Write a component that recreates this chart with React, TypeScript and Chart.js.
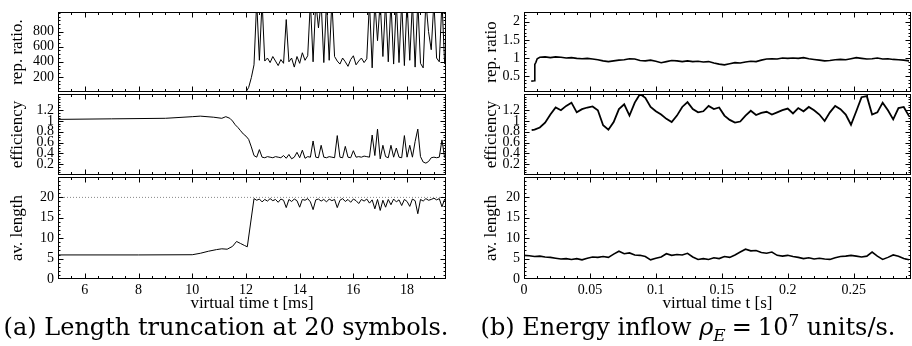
import React, { useEffect, useRef } from "react";
import { Chart, registerables } from "chart.js";

Chart.register(...registerables);

// ---------------- data: panel (a) ----------------
const A_X_TICKS = [6, 8, 10, 12, 14, 16, 18];
const A_REP_TICKS = [200, 400, 600, 800];
const EFF_TICKS = [0.2, 0.4, 0.6, 0.8, 1, 1.2];
const LEN_TICKS = [0, 5, 10, 15, 20];

const A_GRID = [
  12.4, 12.5, 12.6, 12.7, 12.8, 12.9,
  13.0, 13.1, 13.2, 13.3, 13.4, 13.5, 13.6, 13.7, 13.8, 13.9,
  14.0, 14.1, 14.2, 14.3, 14.4, 14.5, 14.6, 14.7, 14.8, 14.9,
  15.0, 15.1, 15.2, 15.3, 15.4, 15.5, 15.6, 15.7, 15.8, 15.9,
  16.0, 16.1, 16.2, 16.3, 16.4, 16.5, 16.6, 16.7, 16.8, 16.9,
  17.0, 17.1, 17.2, 17.3, 17.4, 17.5, 17.6, 17.7, 17.8, 17.9,
  18.0, 18.1, 18.2, 18.3, 18.4, 18.5, 18.6, 18.7, 18.8, 18.9,
  19.0, 19.1, 19.2, 19.3, 19.4,
];

const A_REP_T0 = [5, 12.0, 12.1, 12.2, 12.3];
const A_REP_V0 = [0, 0, 60, 190, 360];
const A_REP_V = [
  1200, 420, 1200, 410, 450, 390,
  470, 410, 350, 430, 380, 960, 400, 450, 330, 470,
  380, 520, 420, 480, 1200, 400, 1200, 850, 1200, 390,
  1200, 420, 1200, 470, 410, 370, 450, 400, 340, 430,
  480, 360, 410, 450, 390, 440, 1200, 320, 1200, 680,
  1200, 470, 1200, 400, 1200, 370, 1200, 390, 1200, 350,
  1200, 420, 1200, 330, 1200, 380, 320, 1200, 800, 560,
  1200, 450, 400, 1200, 370,
];

const A_EFF_T0 = [5, 7, 9, 10, 10.3, 10.8, 11.1, 11.25, 11.4, 11.5, 11.6, 11.7, 11.8, 11.9, 12.0, 12.1, 12.2, 12.3];
const A_EFF_V0 = [1.03, 1.04, 1.05, 1.08, 1.09, 1.07, 1.05, 1.08, 1.05, 1.0, 0.93, 0.88, 0.82, 0.76, 0.72, 0.66, 0.52, 0.36];
const A_EFF_V = [
  0.33, 0.47, 0.33, 0.32, 0.34, 0.33,
  0.32, 0.34, 0.33, 0.32, 0.36, 0.31, 0.38, 0.30, 0.33, 0.42,
  0.32, 0.46, 0.31, 0.34, 0.33, 0.63, 0.33, 0.32, 0.55, 0.33,
  0.32, 0.34, 0.33, 0.32, 0.73, 0.33, 0.32, 0.53, 0.33, 0.32,
  0.45, 0.33, 0.34, 0.33, 0.35, 0.34, 0.33, 0.74, 0.36, 0.85,
  0.30, 0.55, 0.34, 0.32, 0.55, 0.33, 0.50, 0.33, 0.32, 0.73,
  0.33, 0.55, 0.33, 0.62, 0.85, 0.34, 0.24, 0.22, 0.25, 0.32,
  0.33, 0.32, 0.33, 0.65, 0.32,
];

const A_LEN_T0 = [5, 8, 10, 10.3, 10.6, 10.9, 11.1, 11.3, 11.5, 11.65, 11.8, 11.95, 12.05, 12.3];
const A_LEN_V0 = [5.9, 5.9, 5.95, 6.3, 6.8, 7.2, 7.4, 7.3, 8.0, 9.2, 8.7, 8.2, 7.9, 19.7];
const A_LEN_V = [
  19.3, 19.6, 18.9, 19.5, 19.1, 19.7,
  19.2, 19.5, 18.8, 19.6, 19.3, 17.5, 19.5, 19.0, 19.6, 19.2,
  17.6, 19.5, 19.3, 19.7, 18.9, 17.0, 19.4, 19.6, 19.1, 19.5,
  18.9, 19.6, 19.2, 19.5, 17.5, 19.3, 19.7, 19.0, 19.5, 18.8,
  19.6, 19.2, 18.5, 19.5, 19.1, 19.6, 18.6, 19.4, 17.2, 19.5,
  16.8, 19.3, 17.6, 19.5, 18.2, 19.6, 18.9, 19.4, 18.0, 19.5,
  19.0, 17.8, 19.6, 19.2, 16.0, 19.5, 19.1, 19.7, 19.3, 19.5,
  19.8, 19.4, 19.7, 17.7, 19.6,
];
const A_LEN_LIMIT_T = [5, 19.45];
const A_LEN_LIMIT_V = [20, 20];

// ---------------- data: panel (b) ----------------
const B_X_TICKS = [0, 0.05, 0.1, 0.15, 0.2, 0.25];
const B_REP_TICKS = [0.5, 1, 1.5, 2];

const B_GRID = [
  0.012, 0.016, 0.02, 0.024, 0.028, 0.032, 0.036, 0.04, 0.044, 0.048,
  0.052, 0.056, 0.06, 0.064, 0.068, 0.072, 0.076, 0.08, 0.084, 0.088,
  0.092, 0.096, 0.1, 0.104, 0.108, 0.112, 0.116, 0.12, 0.124, 0.128,
  0.132, 0.136, 0.14, 0.144, 0.148, 0.152, 0.156, 0.16, 0.164, 0.168,
  0.172, 0.176, 0.18, 0.184, 0.188, 0.192, 0.196, 0.2, 0.204, 0.208,
  0.212, 0.216, 0.22, 0.224, 0.228, 0.232, 0.236, 0.24, 0.244, 0.248,
  0.252, 0.256, 0.26, 0.264, 0.268, 0.272, 0.276, 0.28, 0.284, 0.288,
  0.292,
];

const B_REP_T0 = [0.0055, 0.0078, 0.0082, 0.009, 0.01];
const B_REP_V0 = [0.36, 0.37, 0.82, 0.88, 0.98];
const B_REP_V = [
  1.02, 1.03, 1.01, 1.03, 1.02, 1.0, 1.01, 0.99, 0.98, 0.99,
  0.97, 0.95, 0.92, 0.9, 0.92, 0.94, 0.95, 0.98, 0.97, 0.93,
  0.92, 0.94, 0.91, 0.87, 0.9, 0.93, 0.92, 0.9, 0.92, 0.9,
  0.91, 0.89, 0.9, 0.86, 0.83, 0.81, 0.84, 0.87, 0.86, 0.89,
  0.91, 0.9, 0.94, 0.97, 0.98, 0.97, 1.0, 0.99, 1.0, 0.99,
  1.01, 0.98, 0.96, 0.94, 0.92, 0.93, 0.95, 0.96, 0.95, 0.98,
  1.01, 0.99, 0.97, 0.98, 1.0, 0.97, 0.98, 0.96, 0.95, 0.94,
  0.92,
];

const B_EFF_T0 = [0.0058, 0.008];
const B_EFF_V0 = [0.83, 0.84];
const B_EFF_V = [
  0.88, 0.97, 1.12, 1.25, 1.2, 1.28, 1.34, 1.16, 1.22, 1.25,
  1.27, 1.2, 0.92, 0.84, 0.98, 1.22, 1.31, 1.1, 1.34, 1.5,
  1.43, 1.26, 1.18, 1.12, 1.04, 0.98, 1.1, 1.26, 1.35, 1.22,
  1.16, 1.18, 1.28, 1.22, 1.25, 1.1, 1.02, 0.97, 0.99, 1.1,
  1.19, 1.11, 1.15, 1.17, 1.12, 1.16, 1.2, 1.23, 1.14, 1.24,
  1.18, 1.26, 1.2, 1.12, 1.0, 1.16, 1.28, 1.22, 1.12, 0.93,
  1.18, 1.44, 1.46, 1.12, 1.16, 1.34, 1.2, 1.03, 1.24, 1.26,
  1.09,
];

const B_LEN_T0 = [0, 0.004, 0.008];
const B_LEN_V0 = [5.8, 5.7, 5.5];
const B_LEN_V = [
  5.6, 5.4, 5.3, 5.1, 4.9, 5.0, 4.8, 5.0, 4.7, 5.1,
  5.4, 5.3, 5.5, 5.3, 6.1, 6.8, 6.2, 6.4, 5.9, 5.8,
  5.5, 4.7, 5.1, 5.4, 6.2, 5.8, 6.0, 5.9, 6.3, 5.4,
  4.8, 5.0, 4.8, 5.2, 5.0, 5.5, 5.3, 5.9, 6.6, 7.3,
  6.9, 7.0, 6.5, 6.3, 6.6, 5.8, 5.6, 5.8, 5.5, 5.3,
  5.0, 5.2, 4.9, 5.1, 4.9, 4.8, 5.2, 5.5, 5.6, 5.8,
  5.6, 5.4, 5.6, 6.6, 5.6, 4.8, 5.3, 5.9, 5.6, 5.0,
  4.7,
];

// ---------------- helpers ----------------
function pts(t0: number[], v0: number[], t: number[], v: number[]) {
  const out: { x: number; y: number }[] = [];
  t0.forEach((x, i) => out.push({ x, y: v0[i] }));
  t.forEach((x, i) => out.push({ x, y: v[i] }));
  return out;
}

const FONT = "'Liberation Serif', 'Times New Roman', serif";
const TICK_SIZE = 14;
const TITLE_SIZE = 17;

type Series = { data: { x: number; y: number }[]; color?: string; width?: number; dash?: number[] };
type Area = { left: number; top: number; right: number; bottom: number };
type PlotProps = {
  cx: number; cy: number; cw: number; ch: number;
  area: Area;
  xMin: number; xMax: number; xTicks: number[]; xMinor: number;
  yMin: number; yMax: number; yTicks: number[]; yMinor: number;
  yTitle: string; yTitleX: number; xTitle?: string;
  series: Series[];
};

function Plot(p: PlotProps) {
  const ref = useRef<HTMLCanvasElement | null>(null);
  useEffect(() => {
    if (!ref.current) return;
    const frame = {
      id: "frame",
      afterDraw(chart: any) {
        const { ctx, chartArea: a, scales } = chart;
        const xs = scales.x, ys = scales.y;
        const L = Math.round(a.left) + 0.5, R = Math.round(a.right) - 0.5;
        const T = Math.round(a.top) + 0.5, B = Math.round(a.bottom) - 0.5;
        ctx.save();
        ctx.strokeStyle = "#000";
        ctx.lineWidth = 1;
        ctx.strokeRect(L, T, R - L, B - T);
        ctx.beginPath();
        const isMajor = (v: number, ticks: number[], step: number) =>
          ticks.some((t) => Math.abs(t - v) < step * 0.01);
        for (let k = Math.ceil(p.xMin / p.xMinor - 1e-9); k * p.xMinor <= p.xMax + 1e-9; k++) {
          const v = k * p.xMinor;
          const len = isMajor(v, p.xTicks, p.xMinor) ? 5 : 2.5;
          const px = Math.round(xs.getPixelForValue(v)) + 0.5;
          if (px < L || px > R) continue;
          ctx.moveTo(px, B); ctx.lineTo(px, B - len);
          ctx.moveTo(px, T); ctx.lineTo(px, T + len);
        }
        for (let k = Math.ceil(p.yMin / p.yMinor - 1e-9); k * p.yMinor <= p.yMax + 1e-9; k++) {
          const v = k * p.yMinor;
          const len = isMajor(v, p.yTicks, p.yMinor) ? 5 : 2;
          const py = Math.round(ys.getPixelForValue(v)) + 0.5;
          if (py < T || py > B) continue;
          ctx.moveTo(L, py); ctx.lineTo(L + len, py);
          ctx.moveTo(R, py); ctx.lineTo(R - len, py);
        }
        ctx.stroke();
        ctx.restore();
      },
    };
    const hasX = !!p.xTitle;
    const chart = new Chart(ref.current, {
      type: "line",
      data: {
        datasets: p.series.map((s) => ({
          data: s.data,
          borderColor: s.color || "#000",
          borderWidth: s.width || 1,
          borderDash: s.dash || [],
          pointRadius: 0,
          tension: 0,
          fill: false,
          clip: 0,
        })),
      },
      options: {
        animation: false,
        responsive: false,
        devicePixelRatio: 1,
        events: [],
        layout: {
          padding: {
            left: 0,
            top: p.area.top - p.cy,
            right: p.cx + p.cw - p.area.right,
            bottom: hasX ? 0 : p.cy + p.ch - p.area.bottom,
          },
        },
        plugins: { legend: { display: false }, tooltip: { enabled: false } },
        scales: {
          x: {
            type: "linear",
            min: p.xMin,
            max: p.xMax,
            display: hasX,
            afterBuildTicks: (s: any) => { s.ticks = p.xTicks.map((v) => ({ value: v })); },
            afterFit: (s: any) => {
              s.height = p.cy + p.ch - p.area.bottom;
              s.paddingLeft = 0; s.paddingRight = 0; s.paddingTop = 0; s.paddingBottom = 0;
            },
            grid: { display: false, drawTicks: false },
            border: { display: false },
            ticks: {
              font: { family: FONT, size: TICK_SIZE },
              color: "#000",
              padding: 3,
              maxRotation: 0,
              autoSkip: false,
              callback: (v: any) => String(v),
            },
            title: {
              display: hasX,
              text: p.xTitle || "",
              font: { family: FONT, size: TITLE_SIZE },
              color: "#000",
              padding: { top: 0, bottom: 1 },
            },
          },
          y: {
            type: "linear",
            min: p.yMin,
            max: p.yMax,
            afterBuildTicks: (s: any) => { s.ticks = p.yTicks.map((v) => ({ value: v })); },
            afterFit: (s: any) => {
              s.width = p.area.left - p.cx;
              s.paddingLeft = 0; s.paddingRight = 0; s.paddingTop = 0; s.paddingBottom = 0;
            },
            grid: { display: false, drawTicks: false },
            border: { display: false },
            ticks: {
              font: { family: FONT, size: TICK_SIZE },
              color: "#000",
              padding: 4,
              autoSkip: false,
              callback: (v: any) => String(v),
            },
            title: {
              display: true,
              text: p.yTitle,
              font: { family: FONT, size: TITLE_SIZE },
              color: "#000",
              padding: { top: p.yTitleX - p.cx - TITLE_SIZE * 0.6, bottom: 0 },
            },
          },
        },
      },
      plugins: [frame],
    } as any);
    return () => chart.destroy();
  }, []);
  return (
    <canvas
      ref={ref}
      width={p.cw}
      height={p.ch}
      style={{ position: "absolute", left: p.cx, top: p.cy, width: p.cw, height: p.ch }}
    />
  );
}

// ---------------- layout ----------------
const ROW1 = { top: 12, bottom: 94 };
const ROW2 = { top: 94, bottom: 177 };
const ROW3 = { top: 177, bottom: 279 };
const BOTTOM_CANVAS = 315;

function Panel(props: {
  cx: number; cw: number; left: number; right: number; titleX: number;
  xMin: number; xMax: number; xTicks: number[]; xMinor: number; xTitle: string;
  rep: { min: number; max: number; ticks: number[]; minor: number; title: string; series: Series[] };
  eff: Series[];
  len: Series[];
}) {
  const { cx, cw, left, right } = props;
  const common = {
    cx, cw,
    xMin: props.xMin, xMax: props.xMax, xTicks: props.xTicks, xMinor: props.xMinor,
    yTitleX: props.titleX,
  };
  return (
    <>
      <Plot {...common} cy={0} ch={ROW1.bottom + 2}
        area={{ left, right, top: ROW1.top, bottom: ROW1.bottom }}
        yMin={props.rep.min} yMax={props.rep.max} yTicks={props.rep.ticks} yMinor={props.rep.minor}
        yTitle={props.rep.title} series={props.rep.series} />
      <Plot {...common} cy={ROW2.top - 2} ch={ROW2.bottom - ROW2.top + 4}
        area={{ left, right, top: ROW2.top, bottom: ROW2.bottom }}
        yMin={0} yMax={1.5} yTicks={EFF_TICKS} yMinor={0.05}
        yTitle="efficiency" series={props.eff} />
      <Plot {...common} cy={ROW3.top - 2} ch={BOTTOM_CANVAS - ROW3.top + 2}
        area={{ left, right, top: ROW3.top, bottom: ROW3.bottom }}
        yMin={0} yMax={25} yTicks={LEN_TICKS} yMinor={1}
        yTitle="av. length" xTitle={props.xTitle} series={props.len} />
    </>
  );
}

export default function App() {
  const capStyle: React.CSSProperties = {
    position: "absolute",
    top: 313,
    fontFamily: "'DejaVu Serif', serif",
    fontSize: 24,
    lineHeight: "28px",
    textAlign: "center",
    whiteSpace: "nowrap",
    color: "#000",
  };
  return (
    <div style={{ position: "absolute", left: 0, top: 0, width: 912, height: 346, background: "#fff", overflow: "hidden" }}>
      <Panel
        cx={0} cw={450} left={58} right={446} titleX={18}
        xMin={5} xMax={19.45} xTicks={A_X_TICKS} xMinor={0.5} xTitle="virtual time t [ms]"
        rep={{
          min: 0, max: 1060, ticks: A_REP_TICKS, minor: 50, title: "rep. ratio.",
          series: [{ data: pts(A_REP_T0, A_REP_V0, A_GRID, A_REP_V) }],
        }}
        eff={[{ data: pts(A_EFF_T0, A_EFF_V0, A_GRID, A_EFF_V) }]}
        len={[
          { data: pts(A_LEN_LIMIT_T, A_LEN_LIMIT_V, [], []), color: "#888", width: 1, dash: [1, 2] },
          { data: pts(A_LEN_T0, A_LEN_V0, A_GRID, A_LEN_V) },
        ]}
      />
      <Panel
        cx={462} cw={450} left={524} right={911} titleX={492}
        xMin={0} xMax={0.2935} xTicks={B_X_TICKS} xMinor={0.01} xTitle="virtual time t [s]"
        rep={{
          min: 0.06, max: 2.27, ticks: B_REP_TICKS, minor: 0.1, title: "rep. ratio",
          series: [{ data: pts(B_REP_T0, B_REP_V0, B_GRID, B_REP_V), width: 1.6 }],
        }}
        eff={[{ data: pts(B_EFF_T0, B_EFF_V0, B_GRID, B_EFF_V), width: 1.8 }]}
        len={[{ data: pts(B_LEN_T0, B_LEN_V0, B_GRID, B_LEN_V), width: 1.6 }]}
      />
      <div style={{ ...capStyle, left: 0, width: 452 }}>(a) Length truncation at 20 symbols.</div>
      <div style={{ ...capStyle, left: 462, width: 452 }}>
        {"(b) Energy inflow "}
        <i>ρ</i>
        <sub style={{ fontSize: 17, lineHeight: 0 }}><i>E</i></sub>
        <span style={{ margin: "0 6px" }}>=</span>
        {"10"}
        <sup style={{ fontSize: 17, lineHeight: 0 }}>7</sup>
        {" units/s."}
      </div>
    </div>
  );
}
